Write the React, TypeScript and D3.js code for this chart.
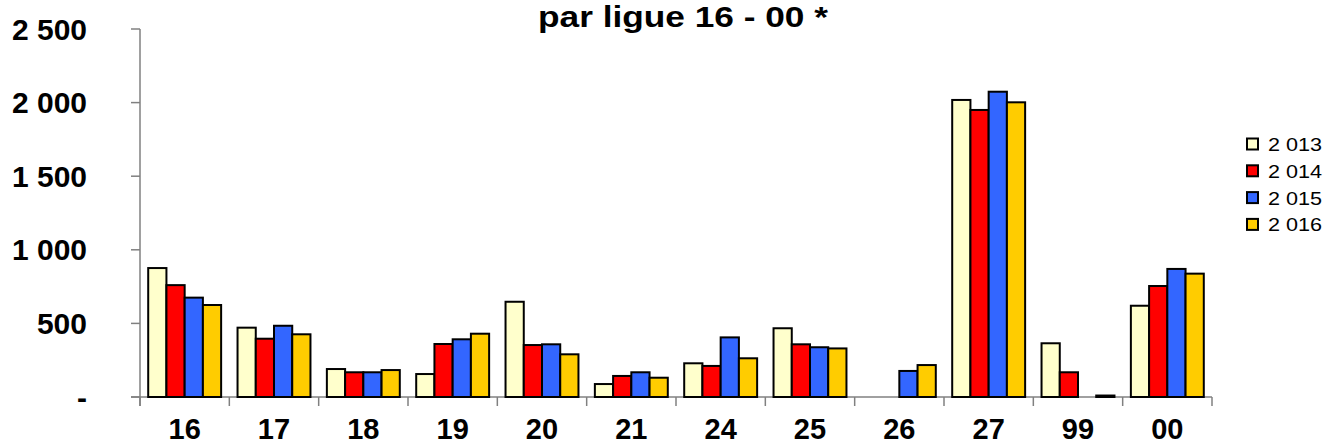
import React from "react";
import * as d3 from "d3";

const categories = ["16", "17", "18", "19", "20", "21", "24", "25", "26", "27", "99", "00"];
const seriesNames = ["2 013", "2 014", "2 015", "2 016"];
const seriesColors = ["#FFFFCC", "#FF0000", "#3366FF", "#FFCC00"];
const v2013 = [876, 471, 190, 156, 647, 88, 229, 467, 0, 2018, 365, 620];
const v2014 = [760, 396, 168, 360, 353, 143, 211, 358, 0, 1950, 168, 754];
const v2015 = [675, 484, 168, 392, 358, 168, 405, 338, 177, 2074, 0, 870];
const v2016 = [625, 426, 183, 430, 290, 131, 263, 330, 217, 2002, 10, 838];
const yTicks = [0, 500, 1000, 1500, 2000, 2500];
const yTickLabels = ["-", "500", "1 000", "1 500", "2 000", "2 500"];
const title = "par ligue 16 - 00 *";

const allSeries = [v2013, v2014, v2015, v2016];

export default function App() {
  const W = 1325, H = 445;
  const left = 140, right = 1212, top = 29, bottom = 397;
  const x = d3.scaleBand<string>().domain(categories).range([left, right]).paddingInner(0).paddingOuter(0);
  const inner = d3.scaleBand<string>().domain(seriesNames).range([0, x.bandwidth()]).paddingInner(0).paddingOuter(0.45);
  const y = d3.scaleLinear().domain([0, 2500]).range([bottom, top]);
  const font = "Arial, 'Liberation Sans', Helvetica, sans-serif";
  const boundaries = categories.map((c) => x(c)!).concat([right]);

  return (
    <div style={{ position: "absolute", left: 0, top: 0 }}>
      <svg width={W} height={H} style={{ display: "block", background: "#fff" }}>
        <text x={538} y={27} fontFamily={font} fontWeight="bold" fontSize={29} textLength={290} lengthAdjust="spacingAndGlyphs">{title}</text>
        {/* y axis */}
        <line x1={left} x2={left} y1={top} y2={bottom + 9} stroke="#808080" strokeWidth={1.5} />
        {yTicks.map((t, i) => (
          <g key={t}>
            <line x1={left - 9} x2={left} y1={y(t)} y2={y(t)} stroke="#808080" strokeWidth={1.5} />
            <text x={87} y={y(t) + 10.5} textAnchor="end" fontFamily={font} fontWeight="bold" fontSize={30}>{yTickLabels[i]}</text>
          </g>
        ))}
        {/* x axis */}
        <line x1={left - 9} x2={right} y1={bottom} y2={bottom} stroke="#808080" strokeWidth={1.5} />
        {boundaries.map((b, i) => (
          <line key={i} x1={b} x2={b} y1={bottom} y2={bottom + 9} stroke="#808080" strokeWidth={1.5} />
        ))}
        {categories.map((c) => (
          <text key={c} x={x(c)! + x.bandwidth() / 2} y={439} textAnchor="middle" fontFamily={font} fontWeight="bold" fontSize={29}>{c}</text>
        ))}
        {/* bars */}
        {categories.map((c, ci) =>
          allSeries.map((s, si) => {
            const v = s[ci];
            if (!v) return null;
            const bx = x(c)! + inner(seriesNames[si])!;
            return (
              <rect key={c + si} x={bx} y={y(v)} width={inner.bandwidth()} height={bottom - y(v)}
                fill={seriesColors[si]} stroke="#000" strokeWidth={2} />
            );
          })
        )}
        {/* legend */}
        {seriesNames.map((n, i) => (
          <g key={n} transform={`translate(1247, ${144 + i * 26.8})`}>
            <rect x={0} y={-5.5} width={11} height={11} fill={seriesColors[i]} stroke="#000" strokeWidth={2} />
            <text x={21} y={7} fontFamily={font} fontSize={19} textLength={54} lengthAdjust="spacingAndGlyphs">{n}</text>
          </g>
        ))}
      </svg>
    </div>
  );
}
